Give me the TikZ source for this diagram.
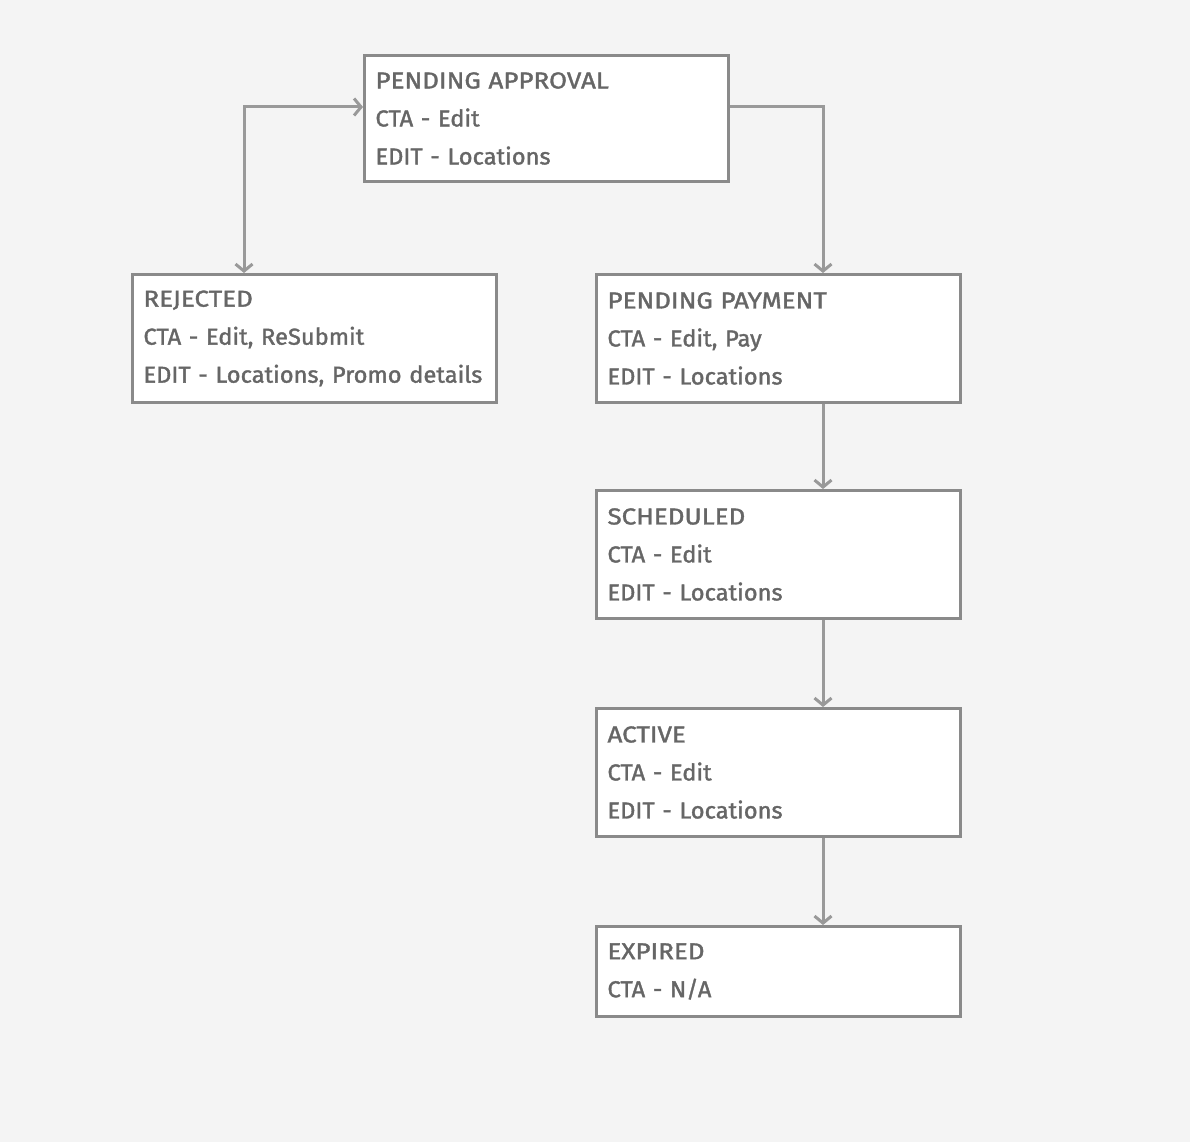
\documentclass[tikz,border=0pt]{standalone}
\usepackage{fontspec}
\setmainfont{Fira Sans}[FakeStretch=1.03, FakeBold=1.5, WordSpace=0.7]
\newfontfamily\titlefont{Fira Sans}[FakeStretch=1.13, FakeBold=1.5, WordSpace=0.7]
\usetikzlibrary{arrows.meta}
\definecolor{bg}{HTML}{F4F4F4}
\definecolor{boxline}{HTML}{8A8A8A}
\definecolor{arrowline}{HTML}{999999}
\definecolor{txt}{HTML}{666666}
\tikzset{
  statebox/.style={draw=boxline, line width=3pt, fill=white, anchor=north west,
    minimum width=364pt, text width=342pt, inner xsep=11pt, align=left,
    text=txt, font={\fontsize{23}{38}\selectfont}},
  flow/.style={draw=arrowline, line width=3pt, -{Straight Barb[length=7pt,width=17pt,line width=3pt]}},
}
\begin{document}
\begin{tikzpicture}[x=1pt,y=-1pt]
\fill[bg] (0,0) rectangle (1190,1142);
\useasboundingbox (0,0) rectangle (1190,1142);
\node[statebox, minimum height=126pt] (pa) at (363,54) {{\titlefont PENDING APPROVAL}\\CTA - Edit\\EDIT - Locations};
\node[statebox, minimum height=128pt] (rj) at (131,273) {{\titlefont REJECTED}\\CTA - Edit, ReSubmit\\\mbox{EDIT - Locations, Promo details}};
\node[statebox, minimum height=128pt] (pp) at (595,273) {{\titlefont PENDING PAYMENT}\\CTA - Edit, Pay\\EDIT - Locations};
\node[statebox, minimum height=128pt] (sc) at (595,489) {{\titlefont SCHEDULED}\\CTA - Edit\\EDIT - Locations};
\node[statebox, minimum height=128pt] (ac) at (595,707) {{\titlefont ACTIVE}\\CTA - Edit\\EDIT - Locations};
\node[statebox, minimum height=90pt] (ex) at (595,925) {{\titlefont EXPIRED}\\CTA - N/A};
\coordinate (lc) at (244,107);
\coordinate (rc) at (823,107);
\draw[flow, {Straight Barb[length=7pt,width=17pt,line width=3pt]}-{Straight Barb[length=7pt,width=17pt,line width=3pt]}] (rj.north -| lc) -- (lc) -- (lc -| pa.west);
\draw[flow] (rc -| pa.east) -- (rc) -- (rc |- pp.north);
\draw[flow] (pp.south -| rc) -- (sc.north -| rc);
\draw[flow] (sc.south -| rc) -- (ac.north -| rc);
\draw[flow] (ac.south -| rc) -- (ex.north -| rc);
\end{tikzpicture}
\end{document}
